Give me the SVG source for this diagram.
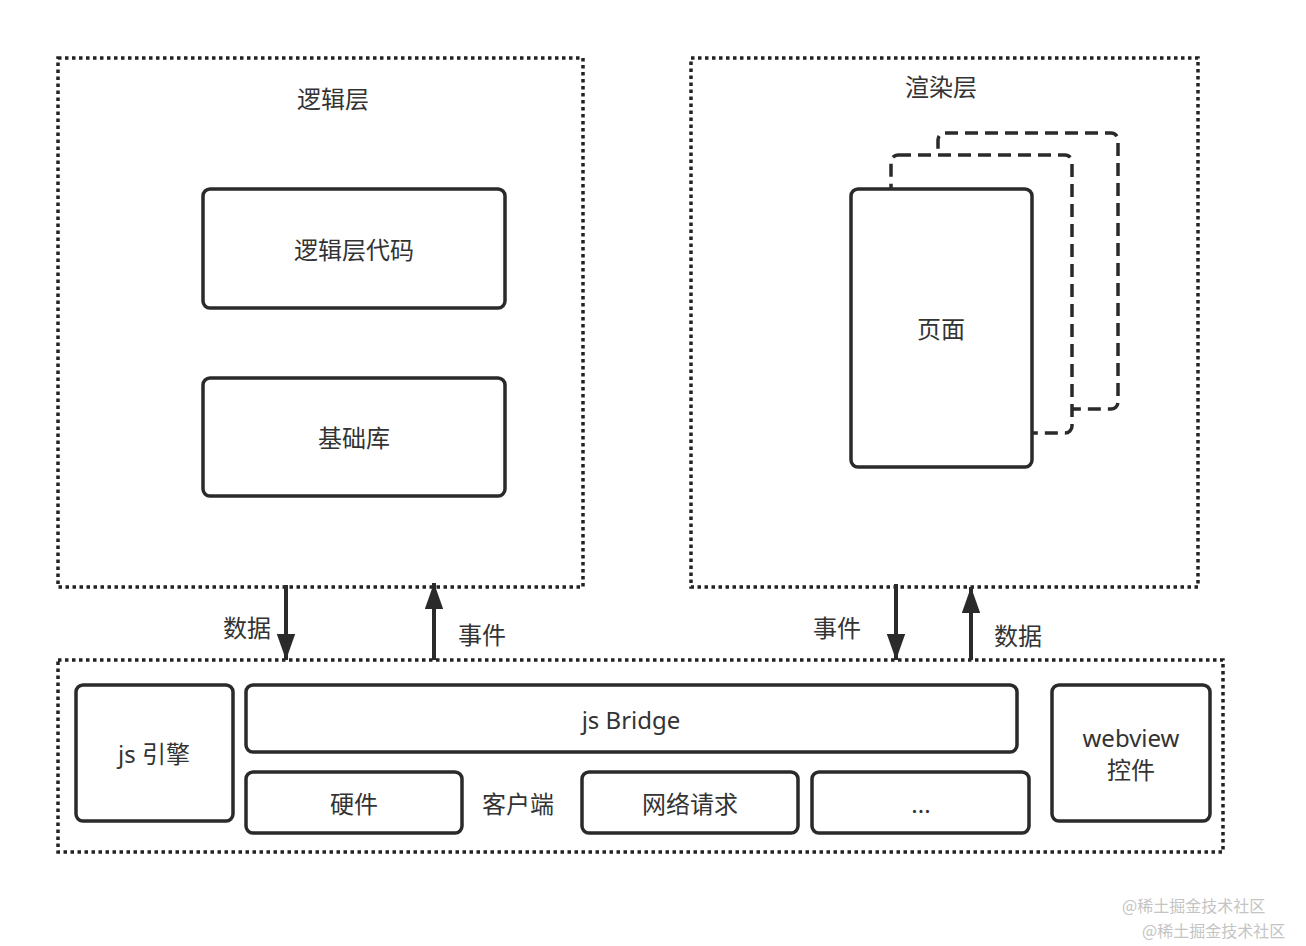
<svg xmlns="http://www.w3.org/2000/svg" width="1306" height="946" viewBox="0 0 1306 946">
<defs>
<style>
.dot{fill:none;stroke:#222;stroke-width:3.5;stroke-dasharray:3.5 3.5}
.box{fill:#fff;stroke:#2a2a2a;stroke-width:3.5}
.dash{fill:none;stroke:#2a2a2a;stroke-width:3.5;stroke-dasharray:13 7}
.t{font-family:"Noto Sans","Noto Sans CJK SC",sans-serif;font-size:24px;fill:#333;text-anchor:middle;dominant-baseline:central}
.line{stroke:#2a2a2a;stroke-width:4;fill:none}
.wm{font-family:"Noto Sans CJK SC",sans-serif;font-size:16px;fill:#c4c4c4}
</style>
<marker id="ah" viewBox="0 0 10 10" refX="10" refY="5" markerWidth="6.5" markerHeight="4.6" markerUnits="strokeWidth" orient="auto" preserveAspectRatio="none">
<path d="M0,0 L10,5 L0,10 z" fill="#2a2a2a"/>
</marker>
</defs>
<rect width="1306" height="946" fill="#fff"/>
<g id="logic-layer">
<rect class="dot" x="58" y="58" width="525" height="529"/>
<text class="t" x="333" y="98">逻辑层</text>
</g>
<g id="logic-code">
<rect class="box" x="203" y="189" width="302" height="119" rx="7"/>
<text class="t" x="354" y="249">逻辑层代码</text>
</g>
<g id="base-lib">
<rect class="box" x="203" y="378" width="302" height="118" rx="7"/>
<text class="t" x="354" y="437">基础库</text>
</g>
<g id="render-layer">
<rect class="dot" x="691" y="58" width="507" height="529"/>
<text class="t" x="941" y="86">渲染层</text>
</g>
<g id="page-back">
<rect class="dash" x="938" y="133" width="180" height="276" rx="7"/>
</g>
<g id="page-mid">
<rect class="dash" x="891" y="155" width="181" height="278" rx="7" style="fill:#fff"/>
</g>
<g id="page">
<rect class="box" x="851" y="189" width="181" height="278" rx="7"/>
<text class="t" x="941" y="328">页面</text>
</g>
<g id="client">
<rect class="dot" x="58" y="660" width="1165" height="192"/>
<text class="t" x="518" y="803">客户端</text>
</g>
<g id="js-engine">
<rect class="box" x="76" y="685" width="157" height="136" rx="7"/>
<text class="t" x="154" y="753">js 引擎</text>
</g>
<g id="js-bridge">
<rect class="box" x="246" y="685" width="771" height="67" rx="7"/>
<text class="t" x="631" y="719">js Bridge</text>
</g>
<g id="hardware">
<rect class="box" x="246" y="772" width="216" height="61" rx="7"/>
<text class="t" x="354" y="803">硬件</text>
</g>
<g id="network">
<rect class="box" x="582" y="772" width="216" height="61" rx="7"/>
<text class="t" x="690" y="803">网络请求</text>
</g>
<g id="more">
<rect class="box" x="812" y="772" width="217" height="61" rx="7"/>
<text class="t" x="921" y="803">...</text>
</g>
<g id="webview">
<rect class="box" x="1052" y="685" width="158" height="136" rx="7"/>
<text class="t" x="1131" y="737">webview</text>
<text class="t" x="1131" y="769">控件</text>
</g>
<g id="connectors">
<line class="line" x1="286" y1="585" x2="286" y2="660" marker-end="url(#ah)"/>
<line class="line" x1="434" y1="660" x2="434" y2="583" marker-end="url(#ah)"/>
<line class="line" x1="896" y1="584" x2="896" y2="660" marker-end="url(#ah)"/>
<line class="line" x1="971" y1="660" x2="971" y2="587" marker-end="url(#ah)"/>
<text class="t" x="247" y="627">数据</text>
<text class="t" x="482" y="634">事件</text>
<text class="t" x="837" y="627">事件</text>
<text class="t" x="1018" y="635">数据</text>
</g>
<text class="wm" x="1122" y="912">@稀土掘金技术社区</text>
<text class="wm" x="1142" y="937">@稀土掘金技术社区</text>
</svg>
